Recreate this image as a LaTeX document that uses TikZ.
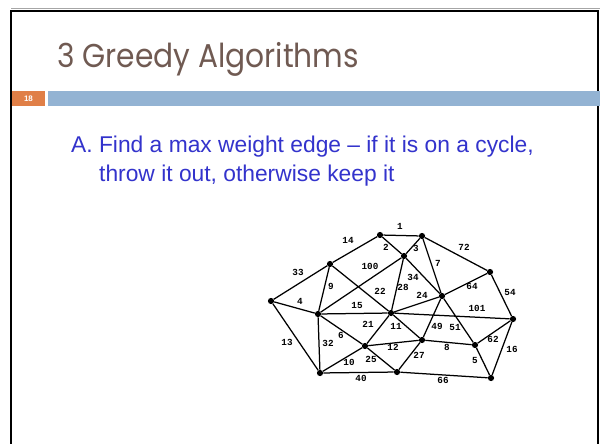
\documentclass[tikz,border=0pt]{standalone}
\usepackage{fontspec}
\setmainfont{Liberation Sans}
\newfontfamily\titlefont{Poppins}
\newfontfamily\labelfont{Liberation Mono}
\definecolor{titlecol}{HTML}{705A52}
\definecolor{bodycol}{HTML}{3333CC}
\definecolor{barblue}{HTML}{93B3D3}
\definecolor{barorange}{HTML}{E07F47}
\tikzset{
  vtx/.style={circle,fill=black,inner sep=0pt,minimum size=6.2pt},
  edgeline/.style={line width=1.25pt,black},
  wlabel/.style={font=\labelfont\bfseries\fontsize{9.3}{10}\selectfont,inner sep=0pt,text=black},
}
\begin{document}
\begin{tikzpicture}[x=1pt,y=-1pt]
\useasboundingbox (0,0) rectangle (600,444);
\fill[white] (0,0) rectangle (600,444);
% frame
\draw[gray!70,line width=1pt] (11,9) -- (600,9);
\draw[black,line width=2pt] (11,470) -- (11,11) -- (598,11) -- (598,470);
% bars
\fill[barorange] (12,91) rectangle (45,106);
\node[font=\bfseries\fontsize{8}{9}\selectfont,text=white,inner sep=0pt] (pgnum) at (28.5,98.5) {18};
\fill[barblue] (48,91) rectangle (600,106);
% title
\node[anchor=base west,inner sep=0pt,text=titlecol,font=\titlefont\fontsize{33}{38}\selectfont,xscale=0.9] (title) at (57,68) {3 Greedy Algorithms};
% body
\node[anchor=base west,inner sep=0pt,text=bodycol,font=\fontsize{22.8}{27}\selectfont] (line1) at (71,152.7) {A. Find a max weight edge -- if it is on a cycle,};
\node[anchor=base west,inner sep=0pt,text=bodycol,font=\fontsize{22.8}{27}\selectfont] (line2) at (99,181.7) {throw it out, otherwise keep it};
% vertices
\node[vtx] (A) at (271,301) {};
\node[vtx] (B) at (330,264) {};
\node[vtx] (C) at (380,235) {};
\node[vtx] (H) at (422,236) {};
\node[vtx] (I) at (404,256) {};
\node[vtx] (J) at (490,272) {};
\node[vtx] (K) at (442,296) {};
\node[vtx] (G) at (391,313) {};
\node[vtx] (D) at (318,314) {};
\node[vtx] (E) at (320,373) {};
\node[vtx] (F) at (365,346) {};
\node[vtx] (M) at (422,340) {};
\node[vtx] (N) at (475,345) {};
\node[vtx] (O) at (397,372) {};
\node[vtx] (P) at (491,378) {};
\node[vtx] (L) at (513,319) {};
% edges
\draw[edgeline] (C)--(H) (C)--(I) (H)--(I) (B)--(C) (A)--(B) (A)--(D) (A)--(E)
  (B)--(D) (B)--(G) (D)--(I) (D)--(G) (I)--(G) (I)--(K) (H)--(K) (H)--(J)
  (K)--(J) (J)--(L) (G)--(K) (G)--(L) (G)--(M) (K)--(M) (K)--(N) (M)--(N)
  (N)--(L) (N)--(P) (L)--(P) (O)--(P) (M)--(O) (F)--(M) (F)--(G) (D)--(F)
  (D)--(E) (E)--(F) (F)--(O) (E)--(O);
% weights
\node[wlabel] (w1) at (400,226) {1};
\node[wlabel] (w2) at (386,247) {2};
\node[wlabel] (w3) at (416,248) {3};
\node[wlabel] (w14) at (348,240) {14};
\node[wlabel] (w33) at (298,272) {33};
\node[wlabel] (w100) at (370,266) {100};
\node[wlabel] (w22) at (380,291) {22};
\node[wlabel] (w9) at (331,286) {9};
\node[wlabel] (w4) at (300,301) {4};
\node[wlabel] (w15) at (357,305) {15};
\node[wlabel] (w28) at (403,287) {28};
\node[wlabel] (w34) at (413,277) {34};
\node[wlabel] (w7) at (438,263) {7};
\node[wlabel] (w72) at (464,247) {72};
\node[wlabel] (w64) at (472,286) {64};
\node[wlabel] (w54) at (510,292) {54};
\node[wlabel] (w24) at (422,295) {24};
\node[wlabel] (w101) at (477,308) {101};
\node[wlabel] (w11) at (396,326) {11};
\node[wlabel] (w21) at (368,324) {21};
\node[wlabel] (w49) at (437,326) {49};
\node[wlabel] (w51) at (455,327) {51};
\node[wlabel] (w6) at (341,335) {6};
\node[wlabel] (w32) at (328,343) {32};
\node[wlabel] (w13) at (287,342) {13};
\node[wlabel] (w12) at (393,347) {12};
\node[wlabel] (w8) at (447,347) {8};
\node[wlabel] (w62) at (493,339) {62};
\node[wlabel] (w10) at (349,362) {10};
\node[wlabel] (w25) at (371,359) {25};
\node[wlabel] (w27) at (419,355) {27};
\node[wlabel] (w5) at (475,360) {5};
\node[wlabel] (w16) at (512,349) {16};
\node[wlabel] (w40) at (361,378) {40};
\node[wlabel] (w66) at (443,380) {66};
\end{tikzpicture}
\end{document}
